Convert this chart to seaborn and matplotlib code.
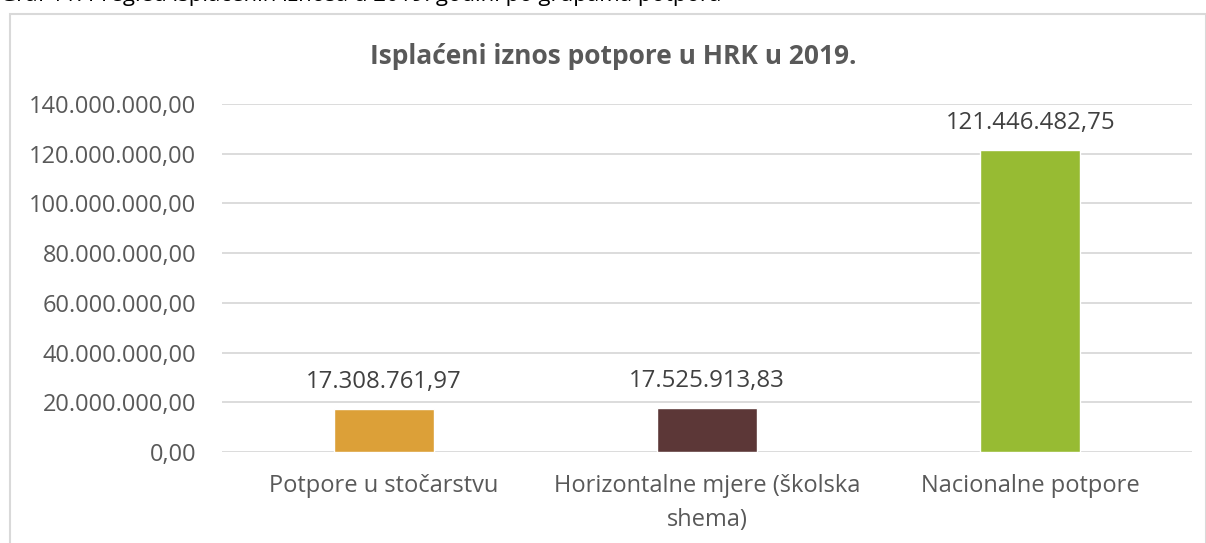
import matplotlib
matplotlib.use("Agg")
import matplotlib.pyplot as plt
import seaborn as sns
import pandas as pd
from matplotlib.patches import Rectangle
from matplotlib.ticker import FuncFormatter

categories = ["Potpore u stočarstvu", "Horizontalne mjere (školska\nshema)", "Nacionalne potpore"]
values = [17308761.97, 17525913.83, 121446482.75]
colors = ["#DCA038", "#5C3737", "#97BB33"]
yticks = [0, 20e6, 40e6, 60e6, 80e6, 100e6, 120e6, 140e6]
title = "Isplaćeni iznos potpore u HRK u 2019."
caption = "Graf 11. Pregled isplaćenih iznosa u 2019. godini po grupama potpora"

def hr(v):
    s = f"{v:,.2f}"
    return s.replace(",", "X").replace(".", ",").replace("X", ".")

sns.set_theme(style="white")
plt.rcParams['font.family'] = ['Open Sans', 'DejaVu Sans']

W, H = 1206, 543
fig = plt.figure(figsize=(W/100, H/100), dpi=100)
ax = fig.add_axes([222/W, 1-452/H, (1192-222)/W, (452-104)/H])

df = pd.DataFrame({"cat": categories, "val": values})
sns.barplot(data=df, x="cat", y="val", hue="cat", palette=colors, width=0.31,
            legend=False, ax=ax, saturation=1)

ax.set_ylim(0, 140e6)
ax.set_yticks(yticks)
ax.yaxis.set_major_formatter(FuncFormatter(lambda v, p: hr(v)))
ax.grid(axis="y", color="#D9D9D9", linewidth=1.3)
ax.set_axisbelow(True)
for s in ax.spines.values():
    s.set_visible(False)
ax.set_xlabel("")
ax.set_ylabel("")
ax.tick_params(axis="y", length=0, pad=18.5, labelsize=17, labelcolor="#595959")
ax.tick_params(axis="x", length=0, pad=16, labelsize=17, labelcolor="#595959")
for lbl in ax.get_xticklabels():
    lbl.set_linespacing(1.55)

for i, v in enumerate(values):
    ax.annotate(hr(v), xy=(i, v), xytext=(0, 11), textcoords="offset points",
                ha="center", va="bottom", fontsize=17.3, color="#404040")

fig.text(613/W, 1-56/H, title, ha="center", va="center", fontsize=19,
         fontweight="bold", color="#595959")
fig.text(0.0, 1+4/H, caption, ha="left", va="center", fontsize=16, color="#000000")

fig.patches.append(Rectangle((9.5/W, -0.1), (1205.5-9.5)/W, 1.1 - 14.5/H,
                             transform=fig.transFigure, fill=False,
                             edgecolor="#D9D9D9", linewidth=1.5))

fig.savefig("out.png", dpi=100)
